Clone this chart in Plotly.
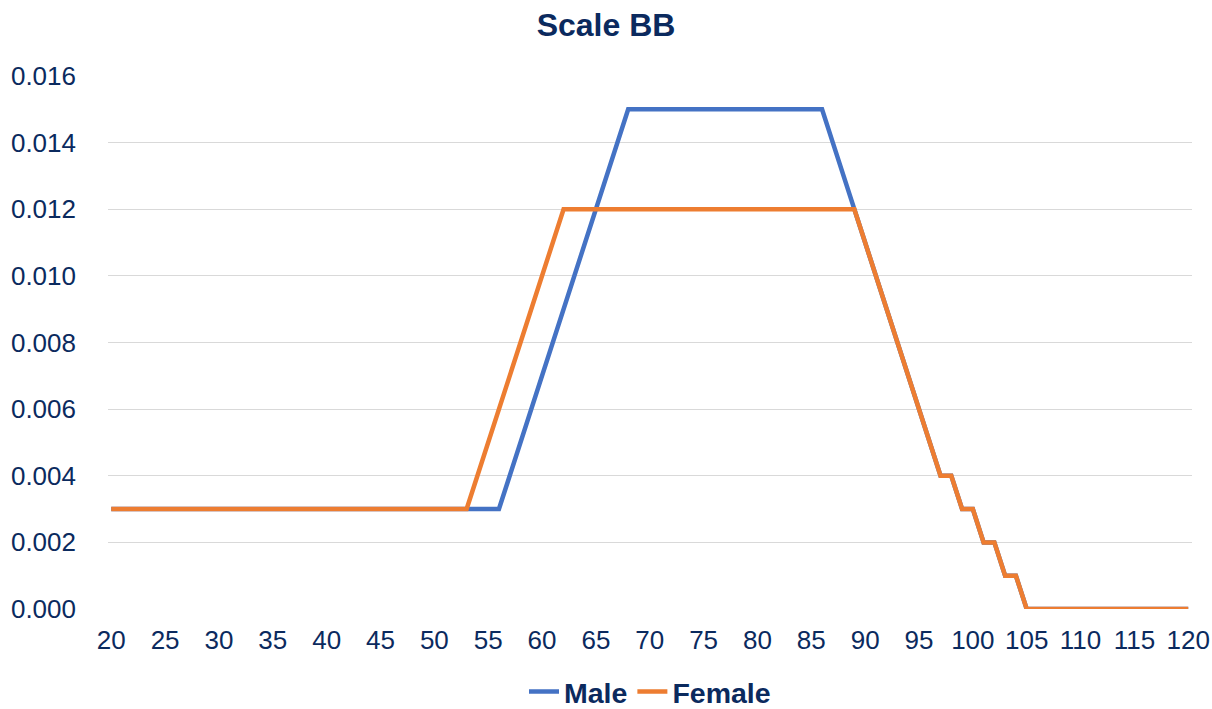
import plotly.graph_objects as go

ages = list(range(20, 121))

# Values per age
male = [0.003] * 37 \
    + [0.004, 0.005, 0.006, 0.007, 0.008, 0.009, 0.010, 0.011, 0.012, 0.013, 0.014] \
    + [0.015] * 19 \
    + [0.014, 0.013, 0.012] \
    + [0.011, 0.010, 0.009, 0.008, 0.007, 0.006, 0.005, 0.004, 0.004, 0.003, 0.003, 0.002, 0.002, 0.001, 0.001, 0.000] \
    + [0.000] * 15
female = [0.003] * 34 \
    + [0.004, 0.005, 0.006, 0.007, 0.008, 0.009, 0.010, 0.011] \
    + [0.012] * 28 \
    + [0.011, 0.010, 0.009, 0.008, 0.007, 0.006, 0.005, 0.004, 0.004, 0.003, 0.003, 0.002, 0.002, 0.001, 0.001, 0.000] \
    + [0.000] * 15

x_ticks = list(range(20, 121, 5))
y_ticks = [0.000, 0.002, 0.004, 0.006, 0.008, 0.010, 0.012, 0.014, 0.016]

navy = "#0B2A5E"
font = "Liberation Sans, Arial, sans-serif"

fig = go.Figure()
fig.add_trace(go.Scatter(x=ages, y=male, mode="lines", name="<b>Male</b>",
                         line=dict(color="#4472C4", width=4.5)))
fig.add_trace(go.Scatter(x=ages, y=female, mode="lines", name="<b>Female</b>",
                         line=dict(color="#ED7D31", width=4.5)))

fig.update_layout(
    width=1212, height=709,
    margin=dict(l=108, r=20, t=76, b=100, autoexpand=False),
    paper_bgcolor="white", plot_bgcolor="white",
    title=dict(text="<b>Scale BB</b>", x=0.5, xanchor="center", y=1 - 25 / 709, yanchor="middle",
               font=dict(family=font, size=32, color=navy)),
    font=dict(family=font, size=26, color=navy),
    showlegend=True,
    legend=dict(orientation="h", x=0.5, xanchor="center", y=-(692 - 609) / 533, yanchor="middle",
                font=dict(family=font, size=28.5, color=navy)),
    xaxis=dict(range=[19.7, 120.35], tickvals=x_ticks, ticktext=[str(t) for t in x_ticks],
               showgrid=False, zeroline=False, showline=False, ticks="",
               tickfont=dict(family=font, size=26, color=navy), ticklabelstandoff=13),
    yaxis=dict(range=[0, 0.016], tickvals=y_ticks, ticktext=[f"{t:.3f}" for t in y_ticks],
               showgrid=True, gridcolor="#D9D9D9", gridwidth=1.3, zeroline=False, showline=False,
               tickfont=dict(family=font, size=26, color=navy), ticklabelstandoff=31),
)

fig.write_html("out.html", config={"displayModeBar": False},
               post_script="document.body.style.margin='0';")
